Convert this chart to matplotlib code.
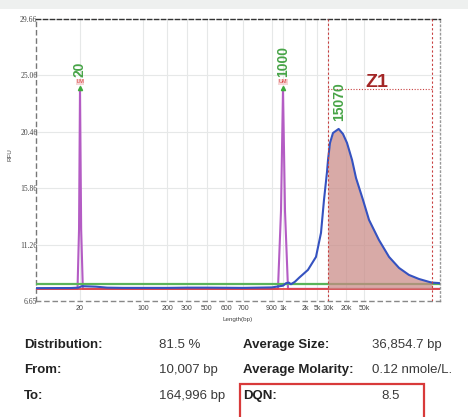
import numpy as np
import matplotlib
matplotlib.use("Agg")
import matplotlib.pyplot as plt
from matplotlib.patches import Rectangle

# ---------------- data ----------------
# size calibration of the nonlinear length axis (bp -> axis position units)
cal_bp = [5, 20, 100, 200, 300, 500, 600, 700, 900, 1000, 2000, 5000, 10000, 20000, 50000, 165000, 200000]
cal_pos = [36, 80, 143, 167, 187, 207, 226, 243, 272, 283, 305, 317, 328, 346, 364, 432, 440]

tick_bp = [20, 100, 200, 300, 500, 600, 700, 900, 1000, 2000, 5000, 10000, 20000, 50000]
tick_labels = ["20", "100", "200", "300", "500", "600", "700", "900", "1k", "2k", "5k", "10k", "20k", "50k"]

y_ticks = [6.65, 11.26, 15.86, 20.46, 25.06, 29.66]
y_tick_labels = ["6.65", "11.26", "15.86", "20.46", "25.06", "29.66"]

# sample trace (blue)
blue_bp = [5, 15, 19, 21, 30, 40, 60, 100, 200, 300, 500, 700, 900, 1000, 1100, 1200, 1286, 1450,
           1656, 2510, 4630, 6430, 7770, 9390, 10007, 10800, 12120, 15070, 17800, 21050, 27200,
           33300, 47500, 54600, 65000, 77600, 92500, 110000, 131000, 156600, 164996, 190000, 200000]
blue_rfu = [7.70, 7.71, 7.74, 7.86, 7.82, 7.74, 7.72, 7.72, 7.72, 7.74, 7.74, 7.72, 7.76, 7.90, 8.10, 8.15, 8.02, 8.21,
            8.54, 9.19, 10.25, 12.21, 14.90, 17.18, 18.16, 19.55, 20.36, 20.69, 20.28, 19.55, 18.16,
            16.69, 14.90, 13.27, 11.63, 10.25, 9.35, 8.78, 8.45, 8.21, 8.15, 8.12, 8.10]

# marker trace (purple): lower / upper markers at 20 bp and 1000 bp
purple_bp = [5, 18.5, 19.4, 20, 20.6, 21.5, 900, 953, 981, 1000, 1065, 1171, 200000]
purple_rfu = [7.64, 7.64, 12.5, 23.95, 12.5, 7.64, 7.64, 7.64, 14.0, 23.95, 14.0, 7.64, 7.64]

green_level = 8.05
red_level = 7.64

marker_bp = [20, 1000]
marker_names = ["20", "1000"]
marker_tags = ["LM", "UM"]

smear_from = 10007
smear_to = 164996
peak_bp = 15070

table_rows = [
    ("Distribution:", "81.5 %", "Average Size:", "36,854.7 bp"),
    ("From:", "10,007 bp", "Average Molarity:", "0.12 nmole/L."),
    ("To:", "164,996 bp", "DQN:", "8.5"),
]

# ---------------- scale ----------------
cal_log = np.log10(cal_bp)
cal_p = np.array(cal_pos, float)


def fwd(x):
    x = np.asarray(x, float)
    lx = np.log10(np.clip(x, 1e-6, None))
    out = np.interp(lx, cal_log, cal_p)
    s0 = (cal_p[1] - cal_p[0]) / (cal_log[1] - cal_log[0])
    s1 = (cal_p[-1] - cal_p[-2]) / (cal_log[-1] - cal_log[-2])
    out = np.where(lx < cal_log[0], cal_p[0] + (lx - cal_log[0]) * s0, out)
    out = np.where(lx > cal_log[-1], cal_p[-1] + (lx - cal_log[-1]) * s1, out)
    return out


def inv(p):
    p = np.asarray(p, float)
    out = np.interp(p, cal_p, cal_log)
    s0 = (cal_log[1] - cal_log[0]) / (cal_p[1] - cal_p[0])
    s1 = (cal_log[-1] - cal_log[-2]) / (cal_p[-1] - cal_p[-2])
    out = np.where(p < cal_p[0], cal_log[0] + (p - cal_p[0]) * s0, out)
    out = np.where(p > cal_p[-1], cal_log[-1] + (p - cal_p[-1]) * s1, out)
    return 10 ** out


# ---------------- figure ----------------
W, H = 468, 417
fig = plt.figure(figsize=(W / 100, H / 100), dpi=100)
fig.patch.set_facecolor("white")
fig.add_artist(Rectangle((0, 1 - 9 / H), 1, 9 / H, transform=fig.transFigure,
                         facecolor="#eef0ef", edgecolor="none", zorder=0))

ax = fig.add_axes([36 / W, 1 - 301 / H, (440 - 36) / W, (301 - 19) / H])
ax.set_xscale("function", functions=(fwd, inv))
ax.set_xlim(5, 200000)
ax.set_ylim(6.65, 29.66)

ax.set_xticks(tick_bp)
ax.set_xticklabels(tick_labels, fontsize=5, family="Liberation Sans", color="#444444")
ax.xaxis.set_minor_locator(matplotlib.ticker.NullLocator())
ax.set_yticks(y_ticks)
ax.set_yticklabels(y_tick_labels, fontsize=5.5, family="Liberation Serif", color="#444444")
ax.tick_params(axis="both", length=0)
ax.tick_params(axis="x", pad=3)
ax.tick_params(axis="y", pad=-1)
ax.grid(True, color="#e6e8e8", linewidth=0.8)
ax.set_axisbelow(True)

for name, sp in ax.spines.items():
    sp.set_linewidth(1.0)
ax.spines["top"].set_color("#333333")
ax.spines["top"].set_linestyle((0, (3, 2)))
ax.spines["left"].set_color("#777777")
ax.spines["left"].set_linestyle((0, (3, 3)))
ax.spines["bottom"].set_color("#888888")
ax.spines["bottom"].set_linestyle((0, (3, 3)))
ax.spines["right"].set_color("#999999")
ax.spines["right"].set_linestyle((0, (1, 2)))

ax.set_xlabel("Length(bp)", fontsize=4.5, family="Liberation Sans", color="#444444", labelpad=0)
ax.xaxis.set_label_coords((238 - 36) / (440 - 36), -0.055)
ax.set_ylabel("RFU", fontsize=4.5, family="Liberation Sans", color="#444444")
ax.yaxis.set_label_coords(-(36 - 12) / (440 - 36), 0.52)

# traces
xb = np.array(blue_bp, float)
yb = np.array(blue_rfu, float)
ax.plot(purple_bp, purple_rfu, color="#b45cc4", lw=1.5, zorder=3)
ax.axhline(red_level, color="#e04646", lw=1.3, zorder=4)
ax.axhline(green_level, color="#5ab45a", lw=1.6, zorder=4)
mask = (xb >= smear_from) & (xb <= smear_to)
ax.fill_between(xb[mask], yb[mask], red_level, color="#c98a86", alpha=0.72, lw=0, zorder=5)
ax.plot(xb, yb, color="#3552c0", lw=1.5, zorder=6)

# smear region markers
ax.axvline(smear_from, color="#c84040", lw=0.8, ls=(0, (2, 2)), zorder=7)
ax.axvline(smear_to, color="#c84040", lw=0.8, ls=(0, (2, 2)), zorder=7)
ax.plot([smear_from, smear_to], [23.92, 23.92], color="#c84040", lw=0.8, ls=(0, (1, 1.5)), zorder=7)
ax.text(62800, 24.45, "Z1", color="#a32626", fontsize=14, fontweight="bold",
        family="Liberation Sans", ha="center", va="center", zorder=8)
ax.text(peak_bp, 21.3, str(peak_bp), color="#47a447", fontsize=10, rotation=90, fontweight="bold",
        family="Liberation Sans", ha="center", va="bottom", zorder=8)

# marker labels
for bp, nm, tag in zip(marker_bp, marker_names, marker_tags):
    ax.plot([bp], [24.05], marker="^", color="#3eaa3e", ms=3, zorder=8)
    ax.text(bp, 24.55, tag, color="#d83a3a", fontsize=4, family="Liberation Sans",
            ha="center", va="center", zorder=8,
            bbox=dict(boxstyle="square,pad=0.1", facecolor="#f6d6d6", edgecolor="none"))
    ax.text(bp, 24.9, nm, color="#47a447", fontsize=10, rotation=90, fontweight="bold",
            family="Liberation Sans", ha="center", va="bottom", zorder=8)

# ---------------- table ----------------
col_x = [24, 159, 243, 372]
row_y = [345, 370, 396]
for r, row in enumerate(table_rows):
    for c, txt in enumerate(row):
        bold = c in (0, 2)
        x = col_x[c]
        if r == 2 and c == 3:
            x = 381
        fig.text(x / W, 1 - row_y[r] / H, txt, fontsize=9.5,
                 fontweight="bold" if bold else "normal",
                 color="#222222" if bold else "#3a3a3a",
                 family="Liberation Sans", ha="left", va="center")

fig.add_artist(Rectangle((240 / W, -0.01), (424 - 240) / W, 1 - 384 / H + 0.01,
                         transform=fig.transFigure, facecolor="none",
                         edgecolor="#d83a3a", lw=1.6))

fig.savefig("out.png", dpi=100)
